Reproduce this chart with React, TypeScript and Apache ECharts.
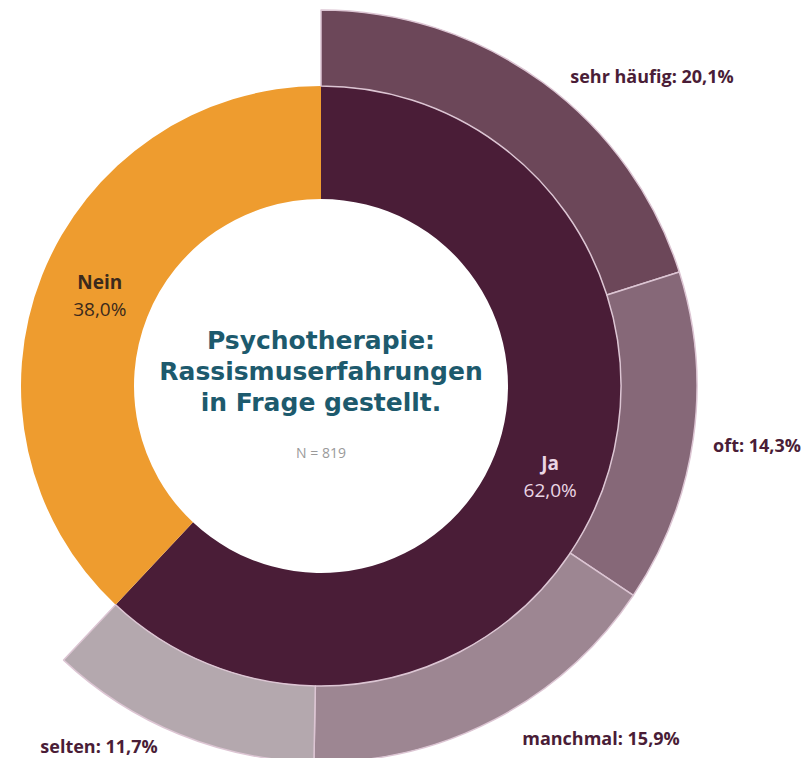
import React, { useEffect, useRef } from "react";
import * as echarts from "echarts";

const innerNames = ["Ja", "Nein"];
const innerValues = [62.0, 38.0];
const innerColors = ["#4a1d37", "#ee9c2f"];
const innerLabelColors = ["#ead6e4", "#3b2a1c"];

const outerNames = ["sehr häufig", "oft", "manchmal", "selten"];
const outerValues = [20.1, 14.3, 15.9, 11.7];
const outerColors = ["#6c4759", "#866878", "#9d8692", "#b4a8ae"];

const titleLines = ["Psychotherapie:", "Rassismuserfahrungen", "in Frage gestellt."];
const sampleText = "N = 819";

const fmt = (v: number) => v.toFixed(1).replace(".", ",") + "%";

const outerLabelPos = [
  { x: 652, y: 76 },
  { x: 757, y: 445 },
  { x: 601, y: 738 },
  { x: 99, y: 746 },
];

export default function App() {
  const ref = useRef<HTMLDivElement>(null);
  useEffect(() => {
    document.body.style.margin = "0";
    const chart = echarts.init(ref.current!, undefined, { renderer: "svg" });
    const cx = 321;
    const cy = 386;
    const blank = 100 - outerValues.reduce((a, b) => a + b, 0);
    chart.setOption({
      animation: false,
      backgroundColor: "#ffffff",
      series: [
        {
          type: "pie",
          center: [cx, cy],
          radius: [187, 300],
          startAngle: 90,
          clockwise: true,
          silent: true,
          data: innerNames.map((n, i) => ({
            name: n,
            value: innerValues[i],
            itemStyle: { color: innerColors[i] },
            label: {
              color: innerLabelColors[i],
            },
          })),
          itemStyle: { borderWidth: 0 },
          label: {
            show: true,
            position: "inside",
            fontFamily: "Open Sans",
            formatter: (p: any) => `{b|${p.name}}\n{v|${fmt(p.value)}}`,
            rich: {
              b: { fontSize: 19, fontWeight: "bold", fontFamily: "Open Sans", lineHeight: 27 },
              v: { fontSize: 19, fontWeight: "normal", fontFamily: "Open Sans", lineHeight: 27 },
            },
          },
          labelLayout: (params: any) =>
            params.dataIndex === 1 ? { dx: 8 } : {},
          labelLine: { show: false },
        },
        {
          type: "pie",
          center: [cx, cy],
          radius: [300, 376],
          startAngle: 90,
          clockwise: true,
          silent: true,
          data: [
            ...outerNames.map((n, i) => ({
              name: n,
              value: outerValues[i],
              itemStyle: { color: outerColors[i], borderColor: "#dcc5d3", borderWidth: 1.5 },
            })),
            {
              name: "blank",
              value: blank,
              itemStyle: { color: "transparent", borderWidth: 0 },
              label: { show: false },
            },
          ],
          label: {
            show: true,
            position: "outside",
            overflow: "none",
            formatter: (p: any) => `${p.name}: ${fmt(p.value)}`,
            color: "#4a1d37",
            fontFamily: "Open Sans",
            fontWeight: "bold",
            fontSize: 18,
          },
          labelLine: { show: false },
          labelLayout: (params: any) => {
            const pos = outerLabelPos[params.dataIndex];
            if (!pos) return {};
            return { x: pos.x, y: pos.y, align: "center", verticalAlign: "middle" };
          },
        },
      ],
      graphic: [
        ...titleLines.map((t, i) => ({
          type: "text",
          x: cx,
          y: 340 + i * 31,
          style: {
            text: t,
            fill: "#1d5a6d",
            font: "bold 25px 'DejaVu Sans'",
            textAlign: "center",
            textVerticalAlign: "middle",
          },
        })),
        {
          type: "text",
          x: cx,
          y: 452,
          style: {
            text: sampleText,
            fill: "#9a9a9a",
            font: "14px 'Open Sans'",
            textAlign: "center",
            textVerticalAlign: "middle",
          },
        },
      ],
    });
    return () => chart.dispose();
  }, []);
  return <div ref={ref} style={{ width: 805, height: 758 }} />;
}
